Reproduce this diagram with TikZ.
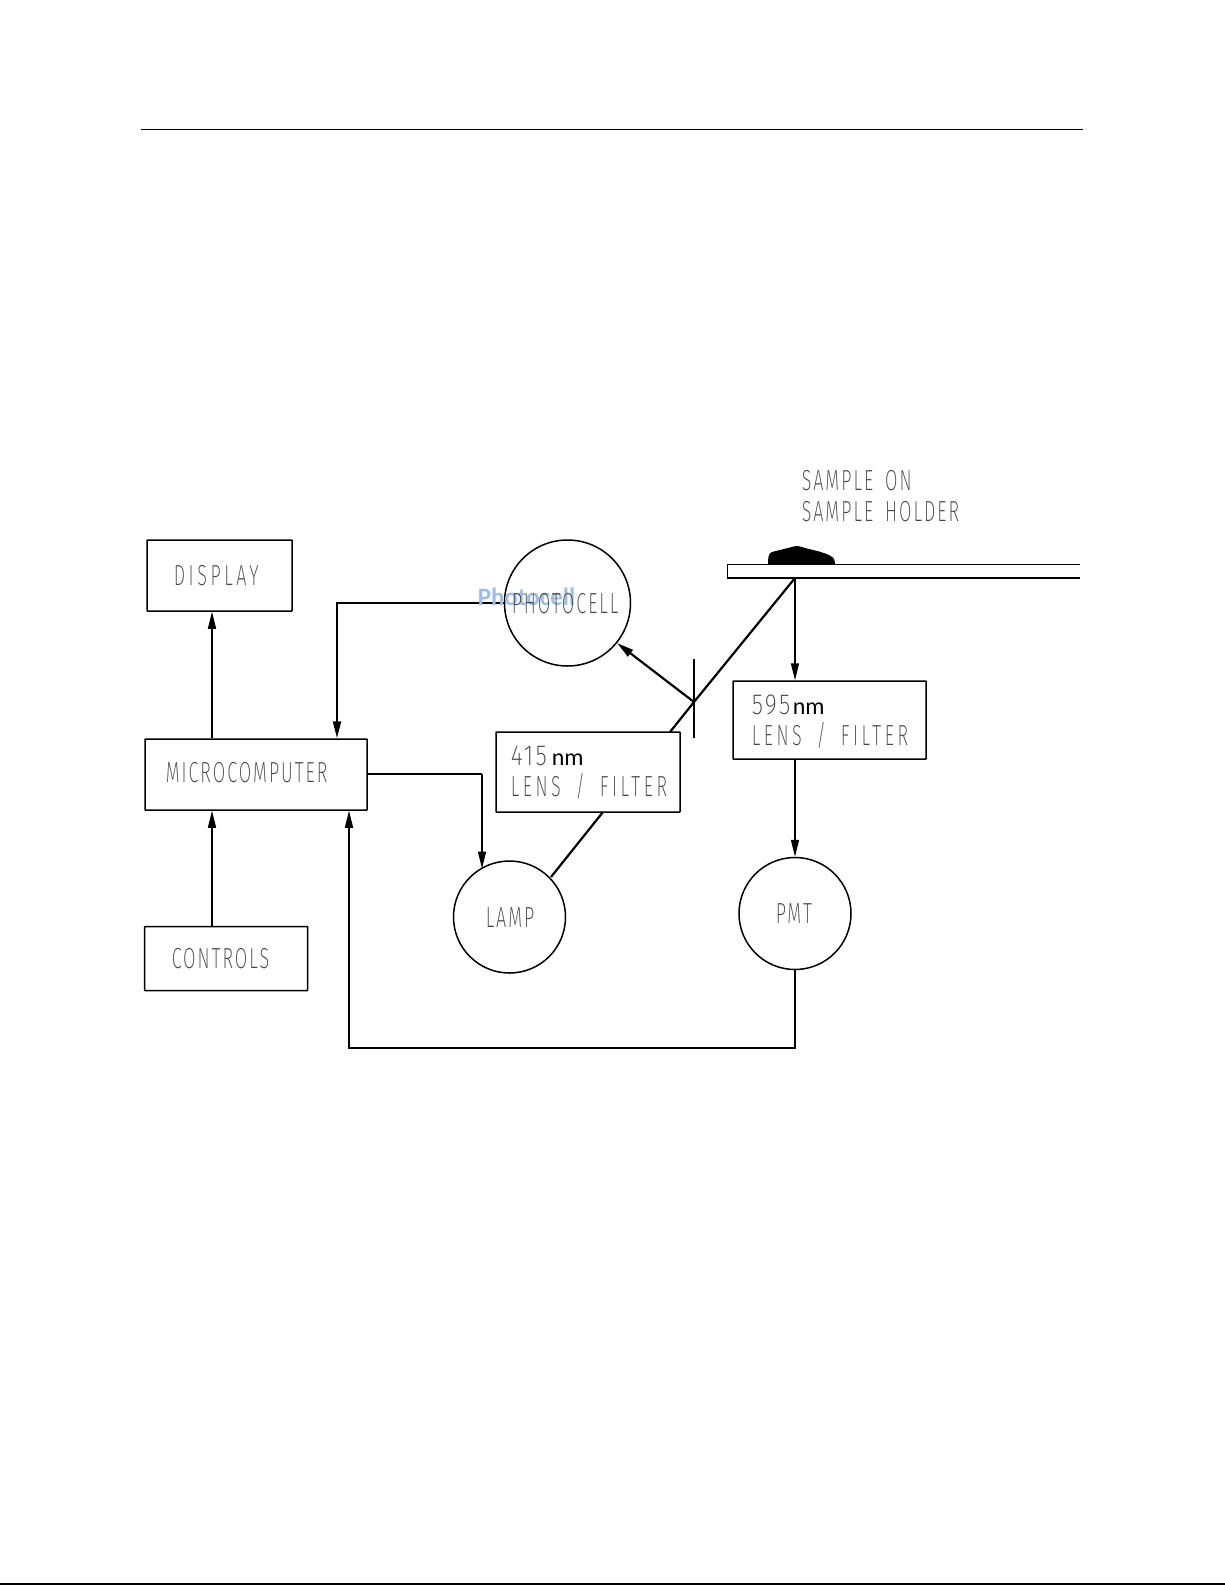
\documentclass[tikz,border=0pt]{standalone}
\usepackage{fontspec}
\usetikzlibrary{arrows.meta}
\newfontfamily\cadfont[FakeStretch=0.62,LetterSpace=7,WordSpace=1.7]{Fira Sans ExtraLight}
\newfontfamily\widefont[FakeStretch=0.62,LetterSpace=12.5,WordSpace=1.7]{Fira Sans ExtraLight}
\newfontfamily\digitfont[FakeStretch=0.8,LetterSpace=8]{Fira Sans ExtraLight}
\newfontfamily\unitfont{Carlito}
\newfontfamily\overfont{Carlito}
\definecolor{cadgray}{RGB}{70,70,70}
\definecolor{overblue}{RGB}{160,188,224}

\begin{document}
\begin{tikzpicture}[x=1pt,y=-1pt,line width=1.5pt,>={Stealth[length=17pt,width=8pt,inset=0pt]},
  box/.style={draw,rectangle,inner sep=0pt,rounded corners=0.5pt},
  lens/.style={draw,circle,inner sep=0pt,minimum size=112pt},
  lab/.style={anchor=base west,inner sep=0pt,text=cadgray,font=\cadfont\fontsize{29}{29}\selectfont},
  wide/.style={lab,font=\widefont\fontsize{29}{29}\selectfont},
  num/.style={lab,font=\digitfont\fontsize{29}{29}\selectfont},
  nm/.style={anchor=base west,inner sep=0pt,font=\unitfont\fontsize{24}{24}\selectfont},
  heavy/.style={line width=2.2pt}]
\useasboundingbox (0,0) rectangle (1225,1585);
% page rules
\coordinate (ruleA) at (140.5,129.5);
\coordinate (ruleB) at (1082.5,129.5);
\coordinate (footA) at (0,1584);
\coordinate (footB) at (1225,1584);
\draw (ruleA) -- (ruleB);
\draw[heavy] (footA) -- (footB);
% boxes
\node[box,minimum width=145pt,minimum height=71pt] (disp) at (219.5,575.5){};
\node[box,minimum width=222pt,minimum height=71pt] (micro) at (256,774.5){};
\node[box,minimum width=163pt,minimum height=64pt] (ctrl) at (226,958.5){};
\node[box,minimum width=184pt,minimum height=80pt] (filtA) at (588,772){};
\node[box,minimum width=193pt,minimum height=78pt] (filtB) at (829.5,720){};
% circles
\node[lens,minimum size=126pt] (cell) at (567.5,603){};
\node[lens] (lamp) at (509.5,917){};
\node[lens] (pmt) at (795,913.5){};
% sample holder
\coordinate (holdA) at (1080,564.5);
\coordinate (holdB) at (727.5,564.5);
\coordinate (holdC) at (727.5,578);
\coordinate (holdD) at (1080,578);
\draw (holdA) -- (holdB) -- (holdC) -- (holdD);
\fill plot[smooth] coordinates {(768,564) (768.5,557) (771,552.5) (782,549.5) (790,547.5) (797,546) (807,548.5) (819,551.5) (829,555) (834,559) (835,564)} -- cycle;
% light path
\coordinate (spot) at (795,578);
\coordinate (split) at (694,702);
\coordinate (mirrorA) at (694,659);
\coordinate (mirrorB) at (694,738);
\coordinate (beamA) at (670,732);
\coordinate (beamB) at (603,812);
\coordinate (beamC) at (551,877);
\coordinate (cellin) at (617,643);
\draw[heavy] (mirrorA) -- (mirrorB);
\draw[heavy] (spot) -- (split) -- (beamA);
\draw[heavy] (beamB) -- (beamC);
\draw[heavy,->] (split) -- (cellin);
\draw[->] (spot) -- (filtB.north -| spot);
\draw[->] (filtB.south -| pmt) -- (pmt.north);
% signal lines
\coordinate (cellx) at (337,650);
\coordinate (lampx) at (482,820);
\coordinate (lampin) at (482,868.5);
\coordinate (upx) at (212,700);
\coordinate (backx) at (349,1000);
\coordinate (backy) at (600,1048);
\draw[heavy,->] (cell.west) -| (cellx |- micro.north);
\draw[heavy] (micro.east |- 0,774) -- (lampx |- 0,774);
\draw[->] (lampx |- 0,774) -- (lampin);
\draw[->] (upx |- micro.north) -- (upx |- disp.south);
\draw[->] (upx |- ctrl.north) -- (upx |- micro.south);
\draw[->] (pmt.south) |- (backx |- backy) -- (backx |- micro.south);
% labels
\node[wide] (tdisp) at (173,585){DISPLAY};
\node[lab] (tmicro) at (165,782){MICROCOMPUTER};
\node[lab] (tctrl) at (171,968){CONTROLS};
\node[lab] (tlamp) at (485,927){LAMP};
\node[lab] (tpmt) at (775,923){PMT};
\node[anchor=base west,inner sep=0pt,text=overblue,font=\overfont\bfseries\fontsize{25}{25}\selectfont] (tover) at (477,605){Photocell};
\node[lab] (tcell) at (511,613){PHOTOCELL};
\node[lab] (tsamA) at (801,490){SAMPLE ON};
\node[lab] (tsamB) at (801,521){SAMPLE HOLDER};
\node[num] (tfiltA) at (510,765){415};
\node[nm] (nmA) at (551,765){nm};
\node[wide] (tlensA) at (510,796){LENS / FILTER};
\node[num] (tfiltB) at (751,714){595};
\node[nm] (nmB) at (792,714){nm};
\node[wide] (tlensB) at (751,745){LENS / FILTER};
\end{tikzpicture}
\end{document}
